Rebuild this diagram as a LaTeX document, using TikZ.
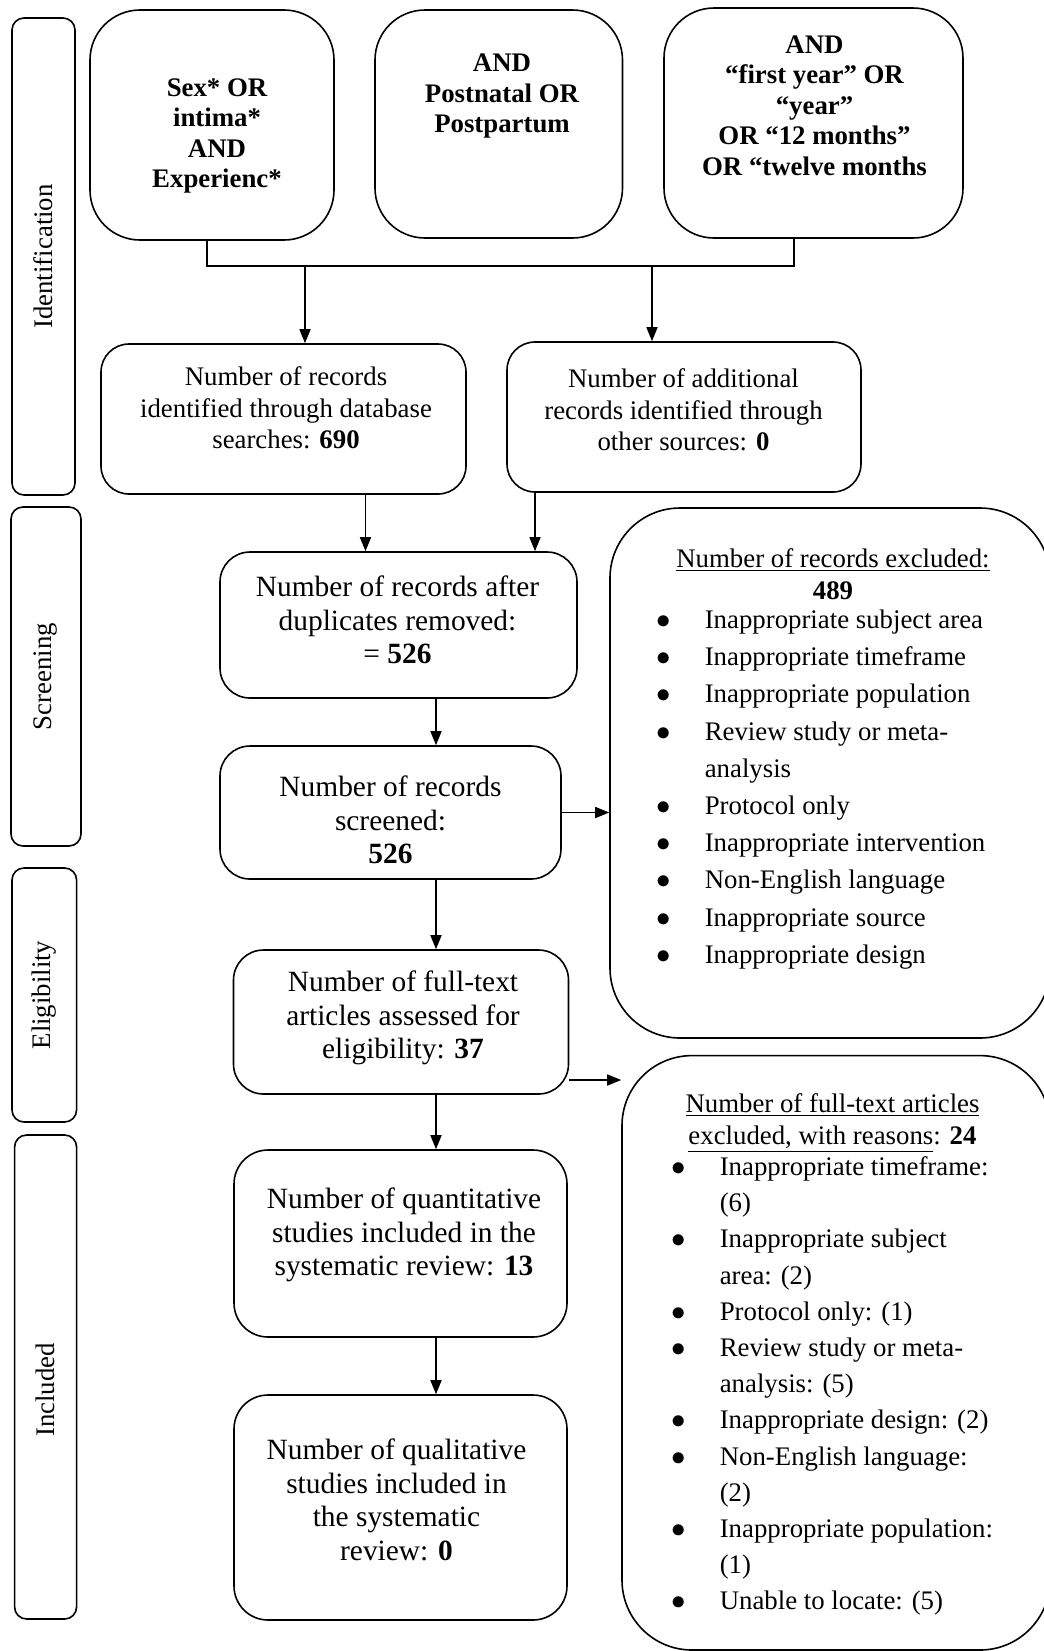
\documentclass[tikz,border=0pt]{standalone}
\usepackage{fontspec}
\usepackage{graphicx}
\setmainfont{Liberation Serif}
\usetikzlibrary{arrows.meta}

\newcommand{\listbul}{$\bullet$}

\tikzset{
	flowbox/.style={draw=black, rounded corners=#1, inner sep=0pt},
	flowbox/.default=15pt,
	sidebox/.style={draw=black, rounded corners=6pt, rotate=90, inner sep=0pt, font=\fontsize{13.4}{16}\selectfont},
	boldtxt/.style={align=center, font=\fontsize{13.4}{15.25}\selectfont\bfseries},
	smalltxt/.style={align=center, font=\fontsize{13.4}{15.8}\selectfont},
	bigtxt/.style={align=center, font=\fontsize{14.7}{16.8}\selectfont}
}

\begin{document}
\begin{tikzpicture}[x=0.5pt, y=-0.5pt, line width=0.8pt, >={Triangle[length=7pt,width=5.5pt]}]
	\useasboundingbox (0,0) rectangle (1044,1651);

	% stage labels
	\node[sidebox, minimum width=238.5pt, minimum height=31.5pt] (ident) at (43.5,256.5) {Identification};
	\node[sidebox, minimum width=169.5pt, minimum height=35pt] (screen) at (46,676.5) {Screening};
	\node[sidebox, minimum width=127pt, minimum height=32.3pt] (elig) at (44.3,995) {Eligibility};
	\node[sidebox, minimum width=242pt, minimum height=31pt] (incl) at (45.6,1377) {};
	\node[rotate=90, font=\fontsize{13.4}{16}\selectfont] (incltxt) at (45.6,1390) {Included};

	% search terms
	\node[flowbox=25pt, minimum width=122pt, minimum height=115pt] (sex) at (212,125) {};
	\node[boldtxt] (sextxt) at (217,136) {Sex* OR\\intima*\\AND\\Experienc*};
	\node[flowbox=25pt, minimum width=123.75pt, minimum height=114pt] (postnatal) at (498.75,124) {};
	\node[boldtxt] (postnataltxt) at (502,96) {AND\\Postnatal OR\\Postpartum};
	\node[flowbox=25pt, minimum width=149.5pt, minimum height=115pt] (months) at (813.5,123) {};
	\node[boldtxt] (monthstxt) at (814.5,105.5) {AND\\“first year” OR\\“year”\\OR “12 months”\\OR “twelve months};

	\coordinate (joinl) at (207,266);
	\coordinate (joinr) at (794,266);
	\coordinate (dropl) at (305,266);
	\coordinate (dropr) at (652,266);
	\draw (joinl |- sex.south) -- (joinl) -- (joinr) -- (joinr |- months.south);

	% identification
	\node[flowbox=14pt, minimum width=182.5pt, minimum height=75pt] (dbase) at (283.5,419) {};
	\node[smalltxt] (dbasetxt) at (286,408) {Number of records\\identified through database\\searches: \textbf{690}};
	\node[flowbox=14pt, minimum width=177pt, minimum height=75pt] (other) at (684,417) {};
	\node[smalltxt] (othertxt) at (683.5,410) {Number of additional\\records identified through\\other sources: \textbf{0}};

	\draw[->] (dropl) -- (dropl |- dbase.north);
	\draw[->] (dropr) -- (dropr |- other.north);

	% screening
	\node[flowbox, minimum width=178.5pt, minimum height=73pt] (dupl) at (398.5,625) {};
	\node[bigtxt] (dupltxt) at (397.5,620) {Number of records after\\duplicates removed:\\= \textbf{526}};
	\node[flowbox, minimum width=170.5pt, minimum height=66.5pt] (screened) at (390.5,812.5) {};
	\node[bigtxt] (screenedtxt) at (390.5,820) {Number of records\\screened:\\\textbf{526}};

	\coordinate (lanel) at (365.5,520);
	\coordinate (laner) at (535,520);
	\coordinate (spine) at (436,700);
	\draw[->] (dbase.south -| lanel) -- (dupl.north -| lanel);
	\draw[->] (other.south -| laner) -- (dupl.north -| laner);
	\draw[->] (dupl.south -| spine) -- (screened.north -| spine);

	% eligibility and included
	\node[flowbox, minimum width=167.5pt, minimum height=72pt] (fulltext) at (401,1022) {};
	\node[bigtxt] (fulltexttxt) at (403,1018) {Number of full-text\\articles assessed for\\eligibility: \textbf{37}};
	\node[flowbox=17pt, minimum width=166.5pt, minimum height=93.5pt] (quant) at (400.5,1243.5) {};
	\node[bigtxt] (quanttxt) at (404,1235) {Number of quantitative\\studies included in the\\systematic review: \textbf{13}};
	\node[flowbox=17pt, minimum width=166.5pt, minimum height=112.5pt] (qual) at (400.5,1507.5) {};
	\node[bigtxt] (qualtxt) at (396.5,1500) {Number of qualitative\\studies included in\\the systematic\\review: \textbf{0}};

	\draw[->] (screened.south -| spine) -- (fulltext.north -| spine);
	\draw[->] (fulltext.south -| spine) -- (quant.north -| spine);
	\draw[->] (quant.south -| spine) -- (qual.north -| spine);

	% exclusions
	\node[flowbox=35pt, minimum width=220pt, minimum height=265pt] (recexcl) at (830,773) {};
	\node[smalltxt, font=\fontsize{13.4}{16}\selectfont] (recexclhead) at (833,574) {\underline{Number of records excluded:}\\\textbf{489}};
	\node[anchor=base west, inner sep=0pt, font=\fontsize{13.4}{18.6}\selectfont] (recexcllist) at (655.5,628.5) {%
		\begin{tabular}[t]{@{}p{24.25pt}@{}l@{}}
			\listbul & Inappropriate subject area\\
			\listbul & Inappropriate timeframe\\
			\listbul & Inappropriate population\\
			\listbul & Review study or meta-\\
			& analysis\\
			\listbul & Protocol only\\
			\listbul & Inappropriate intervention\\
			\listbul & Non-English language\\
			\listbul & Inappropriate source\\
			\listbul & Inappropriate design
		\end{tabular}};

	\node[flowbox=35pt, minimum width=214pt, minimum height=297.2pt] (ftexcl) at (836,1352.8) {};
	\node[smalltxt, font=\fontsize{13.4}{16}\selectfont] (ftexclhead) at (832.5,1123) {\underline{Number of full-text articles}\\\underline{excluded, with reasons}: \textbf{24}};
	\node[anchor=base west, inner sep=0pt, font=\fontsize{13.4}{18.1}\selectfont] (ftexcllist) at (670.5,1175.5) {%
		\begin{tabular}[t]{@{}p{24.25pt}@{}l@{}}
			\listbul & Inappropriate timeframe:\\
			& (6)\\
			\listbul & Inappropriate subject\\
			& area: (2)\\
			\listbul & Protocol only: (1)\\
			\listbul & Review study or meta-\\
			& analysis: (5)\\
			\listbul & Inappropriate design: (2)\\
			\listbul & Non-English language:\\
			& (2)\\
			\listbul & Inappropriate population:\\
			& (1)\\
			\listbul & Unable to locate: (5)
		\end{tabular}};

	\coordinate (ftout) at (570,1080);
	\draw[->] (screened.east) -- (screened.east -| recexcl.west);
	\draw[->] (fulltext.east |- ftout) -- (ftexcl.west |- ftout);
\end{tikzpicture}
\end{document}
